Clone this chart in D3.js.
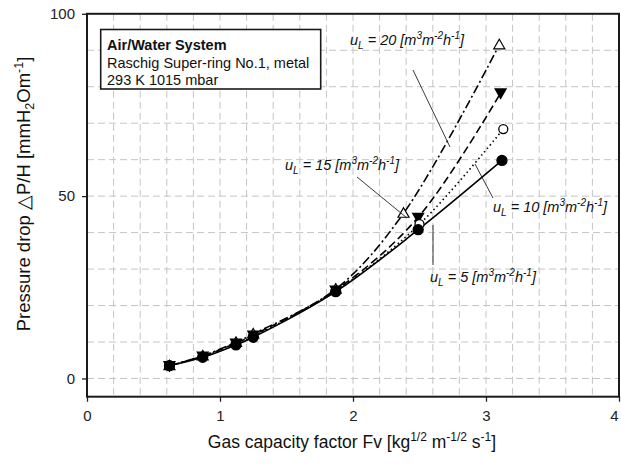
<!DOCTYPE html>
<html><head><meta charset="utf-8">
<script src="https://cdn.jsdelivr.net/npm/d3@7"></script>
<style>body{margin:0;background:#fff}svg{display:block}text{font-family:"Liberation Sans",Arial,sans-serif}</style>
</head><body><svg id="c" width="621" height="465"></svg>
<script>
// ---- data ----
const seriesNames = ["u_L = 5", "u_L = 10", "u_L = 15", "u_L = 20"];
const fv5  = [0.62, 0.87, 1.12, 1.25, 1.87, 2.49, 3.12];
const dp5  = [3.5, 5.8, 9.2, 11.3, 23.8, 40.8, 59.8];
const fv10 = [0.62, 0.87, 1.12, 1.25, 1.87, 2.50, 3.13];
const dp10 = [3.5, 6.0, 9.5, 11.6, 24.0, 42.3, 68.4];
const fv15 = [0.62, 0.87, 1.12, 1.25, 1.87, 2.49, 3.11];
const dp15 = [3.5, 6.1, 9.7, 11.9, 24.2, 44.2, 78.3];
const fv20 = [0.62, 0.87, 1.12, 1.25, 1.87, 2.38, 3.10];
const dp20 = [3.5, 6.2, 9.9, 12.2, 24.5, 45.3, 91.5];
const xTicks = [0, 1, 2, 3, 4];
const yTicks = [0, 50, 100];
const labelValues = ["20", "15", "10", "5"];

const svg = d3.select("#c");
const L = 87, R = 619, T = 13.8, B = 396.7;
const x = d3.scaleLinear().domain([0, 4]).range([L, R]);
const y = d3.scaleLinear().domain([-5, 100]).range([B, T]);

// grid
const g = svg.append("g");
g.selectAll(".vg").data(d3.range(1, 20).map(i => i * 0.2)).enter().append("line")
  .attr("x1", d => x(d)).attr("x2", d => x(d)).attr("y1", T).attr("y2", B)
  .attr("stroke", "#c4c4c4").attr("stroke-width", 1).attr("stroke-dasharray", "7,4");
g.selectAll(".hg").data(d3.range(0, 10).map(i => i * 10)).enter().append("line")
  .attr("x1", L).attr("x2", R).attr("y1", d => y(d)).attr("y2", d => y(d))
  .attr("stroke", "#c4c4c4").attr("stroke-width", 1).attr("stroke-dasharray", "7,4");

// axes
const ax = svg.append("g").attr("transform", `translate(0,${B})`)
  .call(d3.axisBottom(x).tickValues(xTicks).tickSize(5).tickPadding(9).tickFormat(d3.format("d")));
const ay = svg.append("g").attr("transform", `translate(${L},0)`)
  .call(d3.axisLeft(y).tickValues(yTicks).tickSize(5).tickPadding(7).tickFormat(d3.format("d")));
[ax, ay].forEach(a => {
  a.select(".domain").remove();
  a.selectAll("line").attr("stroke", "#222").attr("stroke-width", 1.3);
  a.selectAll("text").attr("font-size", 15).attr("fill", "#222").attr("font-family", "Liberation Sans, Arial, sans-serif");
});
ax.selectAll(".tick").filter(d => d === 4).select("text").attr("dx", -5);

// frame
svg.append("rect").attr("x", L).attr("y", T).attr("width", R - L).attr("height", B - T)
  .attr("fill", "none").attr("stroke", "#1a1a1a").attr("stroke-width", 2);

// series
const series = [
  {fv: fv20, dp: dp20, dash: "9,3,2,3", marker: "triUp", fill: "#fff"},
  {fv: fv15, dp: dp15, dash: "8,4", marker: "triDown", fill: "#000"},
  {fv: fv10, dp: dp10, dash: "1.5,3", marker: "circle", fill: "#fff"},
  {fv: fv5,  dp: dp5,  dash: null, marker: "circle", fill: "#000"}
];
const line = d3.line().x(d => x(d[0])).y(d => y(d[1])).curve(d3.curveCatmullRom.alpha(0.5));
series.forEach(s => {
  const pts = s.fv.map((v, i) => [v, s.dp[i]]);
  const p = svg.append("path").datum(pts).attr("d", line).attr("fill", "none")
    .attr("stroke", "#000").attr("stroke-width", 1.6);
  if (s.dash) p.attr("stroke-dasharray", s.dash);
});
series.forEach(s => {
  const pts = s.fv.map((v, i) => [v, s.dp[i]]);
  pts.forEach(d => {
    const cx = x(d[0]), cy = y(d[1]);
    if (s.marker === "circle") {
      svg.append("circle").attr("cx", cx).attr("cy", cy).attr("r", s.fill === "#000" ? 5 : 4.5)
        .attr("fill", s.fill).attr("stroke", "#000").attr("stroke-width", 1.3);
    } else if (s.marker === "triUp") {
      svg.append("path").attr("d", `M${cx},${cy - 5.5}L${cx + 5.5},${cy + 4}L${cx - 5.5},${cy + 4}Z`)
        .attr("fill", s.fill).attr("stroke", "#000").attr("stroke-width", 1.2);
    } else {
      svg.append("path").attr("d", `M${cx},${cy + 5.5}L${cx + 5.5},${cy - 4}L${cx - 5.5},${cy - 4}Z`)
        .attr("fill", s.fill).attr("stroke", "#000").attr("stroke-width", 1.2);
    }
  });
});

// annotations
function uLabel(tx, ty, val) {
  const t = svg.append("text").attr("x", tx).attr("y", ty).attr("font-size", 14.5)
    .attr("font-style", "italic").attr("fill", "#111");
  t.append("tspan").text("u");
  t.append("tspan").attr("font-size", 10).attr("dy", 4).text("L");
  t.append("tspan").attr("dy", -4).text(" = " + val + " [m");
  t.append("tspan").attr("font-size", 10).attr("dy", -6).text("3");
  t.append("tspan").attr("dy", 6).text("m");
  t.append("tspan").attr("font-size", 10).attr("dy", -6).text("-2");
  t.append("tspan").attr("dy", 6).text("h");
  t.append("tspan").attr("font-size", 10).attr("dy", -6).text("-1");
  t.append("tspan").attr("dy", 6).text("]");
}
function leader(x1, y1, x2, y2) {
  svg.append("line").attr("x1", x1).attr("y1", y1).attr("x2", x2).attr("y2", y2)
    .attr("stroke", "#222").attr("stroke-width", 0.9);
}
uLabel(350, 45, labelValues[0]); leader(413, 70, 450, 147);
uLabel(285, 170, labelValues[1]); leader(357, 177, 407, 218);
uLabel(493, 212, labelValues[2]); leader(475, 164, 493, 198);
uLabel(430, 282, labelValues[3]); leader(433, 225, 433, 265);

// info box
svg.append("rect").attr("x", 100.7).attr("y", 29.5).attr("width", 220).attr("height", 59.5)
  .attr("fill", "#fff").attr("stroke", "#1a1a1a").attr("stroke-width", 1.6);
svg.append("text").attr("x", 107).attr("y", 50).attr("font-size", 14.5).attr("font-weight", "bold")
  .attr("fill", "#111").text("Air/Water System");
svg.append("text").attr("x", 107).attr("y", 67.5).attr("font-size", 14.5).attr("fill", "#111")
  .text("Raschig Super-ring No.1, metal");
svg.append("text").attr("x", 107).attr("y", 85).attr("font-size", 14.5).attr("fill", "#111")
  .text("293 K 1015 mbar");

// axis titles
const xt = svg.append("text").attr("x", 352).attr("y", 448).attr("text-anchor", "middle")
  .attr("font-size", 17.5).attr("fill", "#111");
xt.append("tspan").text("Gas capacity factor  Fv [kg");
xt.append("tspan").attr("font-size", 12).attr("dy", -7).text("1/2");
xt.append("tspan").attr("dy", 7).text(" m");
xt.append("tspan").attr("font-size", 12).attr("dy", -7).text("-1/2");
xt.append("tspan").attr("dy", 7).text(" s");
xt.append("tspan").attr("font-size", 12).attr("dy", -7).text("-1");
xt.append("tspan").attr("dy", 7).text("]");

const yt = svg.append("text").attr("transform", "translate(30,194) rotate(-90)")
  .attr("text-anchor", "middle").attr("font-size", 18.5).attr("fill", "#111");
yt.append("tspan").text("Pressure drop \u25B3P/H [mmH");
yt.append("tspan").attr("font-size", 12.5).attr("dy", 4).text("2");
yt.append("tspan").attr("dy", -4).text("Om");
yt.append("tspan").attr("font-size", 12.5).attr("dy", -7).text("-1");
yt.append("tspan").attr("dy", 7).text("]");
</script></body></html>
